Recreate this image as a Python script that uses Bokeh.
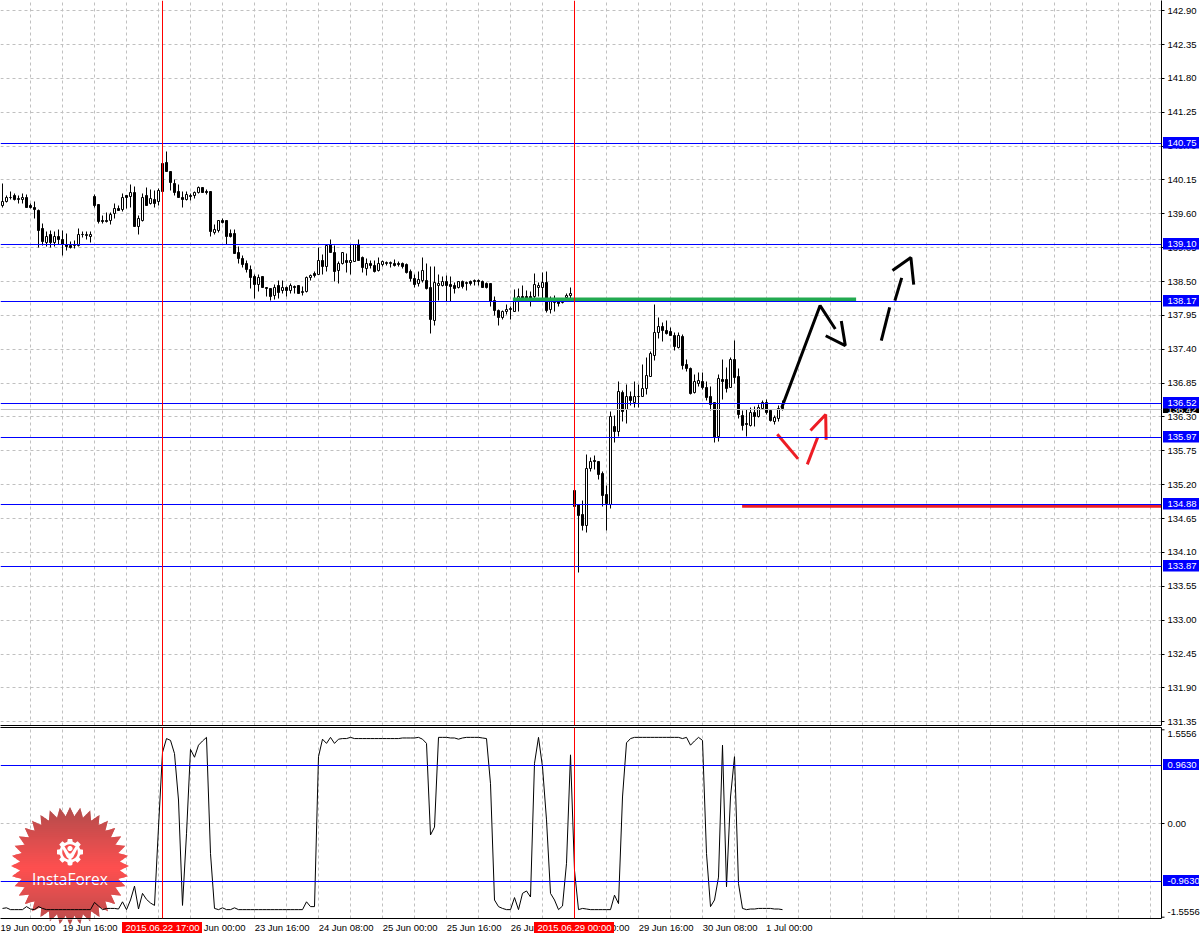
import math
from bokeh.embed import file_html
from bokeh.resources import INLINE
from bokeh.plotting import figure
from bokeh.layouts import column
from bokeh.core.properties import value
from bokeh.models import (Range1d, FixedTicker, LinearAxis, PrintfTickFormatter, Span, Label,
                          PolyAnnotation, ColumnDataSource)

HIGHS = [140.10,139.89,139.97,139.93,139.89,139.93,139.91,139.76,139.80,139.67,
139.45,139.31,139.33,139.31,139.35,139.33,139.28,139.15,139.17,139.37,
139.31,139.31,139.31,139.91,139.75,139.58,139.63,139.62,139.77,139.74,
139.93,139.90,140.08,140.04,139.58,139.93,140.03,140.00,139.98,140.01,
140.42,140.61,140.29,140.16,140.07,139.96,139.96,139.93,139.96,140.04,
140.03,140.00,139.97,139.42,139.50,139.53,139.49,139.35,139.34,139.07,
138.93,138.84,138.76,138.62,138.62,138.58,138.41,138.39,138.45,138.52,
138.52,138.42,138.47,138.44,138.44,138.42,138.58,138.61,138.67,139.05,
138.94,139.10,139.18,139.08,138.83,138.98,138.96,139.10,139.11,139.18,
138.90,138.87,138.84,138.84,138.89,138.84,138.83,138.83,138.86,138.83,
138.81,138.79,138.70,138.61,138.67,138.89,138.80,138.75,138.75,138.61,
138.58,138.60,138.58,138.48,138.50,138.51,138.50,138.52,138.54,138.54,
138.51,138.48,138.47,138.25,138.05,138.03,138.12,138.09,138.37,138.38,
138.43,138.36,138.34,138.63,138.48,138.65,138.67,138.25,138.27,138.22,
138.21,138.30,138.41,135.11,134.88,134.95,135.69,135.65,135.67,135.58,
135.41,135.18,136.39,136.33,136.87,136.73,136.82,136.72,136.88,136.83,
137.15,137.26,137.37,138.13,137.91,137.83,137.87,137.76,137.67,137.68,
137.64,137.23,137.11,136.99,137.03,137.02,136.88,136.80,136.53,136.99,
137.24,137.10,137.27,137.54,137.08,136.41,136.42,136.45,136.47,136.50,
136.56,136.59,136.42,136.33,136.49,136.56]

LOWS = [139.71,139.79,139.83,139.82,139.77,139.76,139.70,139.68,139.52,139.05,
139.08,139.07,139.06,139.07,139.10,138.92,139.01,139.03,139.03,139.07,
139.21,139.18,139.14,139.71,139.45,139.44,139.46,139.42,139.52,139.65,
139.64,139.68,139.70,139.39,139.26,139.48,139.73,139.75,139.71,139.73,
139.96,140.28,139.98,139.89,139.86,139.70,139.81,139.81,139.85,139.93,
139.94,139.91,139.24,139.26,139.30,139.45,139.11,139.22,138.95,138.79,
138.73,138.65,138.38,138.23,138.34,138.40,138.25,138.19,138.21,138.23,
138.31,138.26,138.31,138.31,138.30,138.28,138.33,138.52,138.56,138.61,
138.61,138.67,138.97,138.50,138.47,138.78,138.64,138.62,138.82,138.84,
138.64,138.60,138.71,138.64,138.66,138.75,138.76,138.73,138.75,138.75,
138.71,138.63,138.50,138.40,138.42,138.48,138.37,137.65,137.78,138.20,
138.42,138.18,138.18,138.31,138.38,138.39,138.35,138.43,138.44,138.43,
138.40,138.39,138.10,137.95,137.78,137.89,137.97,137.88,138.02,138.02,
138.18,138.18,138.09,138.21,138.25,138.18,137.99,137.98,138.02,138.10,
138.14,138.21,138.23,134.85,133.78,134.45,134.43,135.42,135.45,135.28,
134.84,134.46,134.81,135.89,135.99,136.23,136.19,136.48,136.46,136.45,
136.64,136.67,136.95,137.22,137.58,137.53,137.64,137.63,137.38,137.41,
137.07,137.04,136.67,136.68,136.80,136.75,136.56,136.41,135.88,135.91,
136.58,136.69,136.78,136.85,136.28,136.08,135.99,136.14,136.15,136.29,
136.42,136.34,136.23,136.17,136.23,136.40]

OPENS = [139.74,139.80,139.86,139.89,139.84,139.84,139.87,139.73,139.71,139.65,
139.36,139.14,139.26,139.13,139.24,139.18,139.10,139.09,139.09,139.09,
139.26,139.25,139.23,139.88,139.75,139.50,139.50,139.49,139.60,139.69,
139.67,139.89,139.88,139.94,139.40,139.50,139.89,139.76,139.84,139.80,
140.42,140.43,140.29,140.10,139.96,139.87,139.83,139.90,139.90,139.94,
140.02,139.97,139.97,139.29,139.33,139.49,139.49,139.28,139.28,138.97,
138.87,138.79,138.69,138.58,138.45,138.58,138.41,138.38,138.27,138.43,
138.35,138.41,138.36,138.42,138.43,138.33,138.34,138.56,138.63,138.61,
138.84,138.75,139.10,138.98,138.68,138.79,138.84,138.81,138.83,139.10,
138.89,138.71,138.80,138.76,138.68,138.78,138.80,138.80,138.80,138.80,
138.79,138.78,138.67,138.55,138.47,138.52,138.52,138.41,137.87,138.44,
138.43,138.50,138.45,138.43,138.40,138.50,138.47,138.50,138.50,138.52,
138.50,138.47,138.47,138.20,138.03,137.91,138.02,138.05,138.02,138.18,
138.26,138.26,138.26,138.25,138.41,138.40,138.49,138.04,138.16,138.17,
138.16,138.24,138.27,135.11,134.88,134.71,134.53,135.47,135.59,135.58,
135.38,135.04,134.88,136.15,136.07,136.69,136.42,136.64,136.53,136.64,
136.64,136.77,136.96,137.30,137.68,137.77,137.71,137.69,137.63,137.43,
137.61,137.15,137.09,136.70,136.85,136.87,136.78,136.63,136.53,135.98,
136.91,136.91,136.78,137.24,136.95,136.33,136.19,136.16,136.37,136.30,
136.43,136.54,136.40,136.23,136.28,136.47]

CLOSES = [139.80,139.87,139.87,139.84,139.85,139.87,139.70,139.70,139.67,139.33,
139.15,139.24,139.13,139.24,139.18,139.10,139.07,139.05,139.08,139.26,
139.27,139.26,139.27,139.73,139.47,139.47,139.48,139.59,139.69,139.65,
139.87,139.87,139.95,139.39,139.53,139.87,139.74,139.85,139.77,139.98,
139.96,140.28,140.11,139.95,139.86,139.83,139.91,139.88,139.94,140.03,
139.95,139.94,139.31,139.35,139.50,139.46,139.24,139.24,138.95,138.88,
138.77,138.69,138.56,138.45,138.56,138.40,138.39,138.26,138.41,138.33,
138.41,138.36,138.44,138.40,138.30,138.34,138.57,138.60,138.60,138.85,
138.75,139.08,138.97,138.67,138.80,138.97,138.81,138.85,139.10,138.85,
138.73,138.79,138.76,138.66,138.79,138.82,138.81,138.81,138.76,138.78,
138.75,138.65,138.55,138.45,138.53,138.68,138.38,137.88,138.48,138.47,
138.50,138.43,138.42,138.39,138.50,138.42,138.48,138.47,138.52,138.50,
138.40,138.41,138.18,138.03,137.91,138.02,138.05,138.07,138.18,138.25,
138.23,138.23,138.23,138.45,138.43,138.49,138.03,138.18,138.18,138.15,
138.18,138.27,138.31,134.85,134.70,134.54,135.46,135.57,135.57,135.36,
135.03,134.90,136.30,136.07,136.71,136.39,136.64,136.56,136.64,136.64,
136.77,136.98,137.33,137.67,137.77,137.71,137.66,137.63,137.45,137.62,
137.14,137.09,136.68,136.87,136.89,136.78,136.62,136.51,135.96,136.93,
136.88,136.77,137.24,136.94,136.34,136.16,136.17,136.38,136.30,136.45,
136.54,136.37,136.25,136.29,136.43,136.43]

INDICATOR = [-1.41,-1.40,-1.43,-1.43,-1.43,-1.43,-1.38,-1.42,-1.43,-1.38,
-1.41,-1.43,-1.43,-1.43,-1.43,-1.43,-1.43,-1.43,-1.43,-1.43,
-1.43,-1.43,-1.43,-1.31,-1.37,-1.43,-1.41,-1.41,-1.41,-1.42,
-1.30,-1.43,-1.27,-1.04,-1.42,-1.16,-1.26,-1.32,-1.36,-0.06,
1.18,1.41,1.38,1.16,0.39,-1.36,-0.17,1.23,1.10,1.30,
1.37,1.43,-0.50,-1.41,-1.43,-1.40,-1.43,-1.43,-1.40,-1.43,
-1.43,-1.43,-1.43,-1.43,-1.43,-1.43,-1.43,-1.43,-1.43,-1.43,
-1.43,-1.43,-1.43,-1.43,-1.43,-1.43,-1.30,-1.38,-1.38,1.11,
1.40,1.33,1.43,1.33,1.40,1.41,1.41,1.43,1.41,1.41,
1.41,1.41,1.41,1.41,1.41,1.41,1.41,1.41,1.41,1.41,
1.42,1.42,1.42,1.42,1.43,1.40,1.33,-0.19,-0.06,1.43,
1.43,1.43,1.42,1.42,1.40,1.42,1.43,1.43,1.43,1.43,
1.42,1.41,0.66,-1.27,-1.38,-1.41,-1.43,-1.43,-1.23,-1.43,
-1.16,-1.12,-1.22,1.00,1.43,0.94,0.06,-1.16,-1.27,-1.43,
-1.37,-0.66,1.14,-0.78,-1.43,-1.41,-1.42,-1.43,-1.43,-1.43,
-1.43,-1.43,-1.43,-1.19,-1.33,0.44,1.34,1.41,1.43,1.43,
1.43,1.43,1.43,1.43,1.43,1.43,1.43,1.43,1.43,1.43,
1.41,1.43,1.30,1.37,1.43,1.38,-0.50,-1.38,-1.27,-0.89,
1.30,-1.05,0.44,1.11,-1.00,-1.41,-1.43,-1.42,-1.42,-1.41,
-1.41,-1.41,-1.41,-1.42,-1.42,-1.43]

PRICE_TICKS = [142.90,142.35,141.80,141.25,140.70,140.15,139.60,139.05,138.50,137.95,137.40,
               136.85,136.30,135.75,135.20,134.65,134.10,133.55,133.00,132.45,131.90,131.35]
BLUE_LEVELS = [140.75,139.10,138.17,136.52,135.97,134.88,133.87]
LAST_PRICE = 136.42
IND_LEVELS = [0.963,-0.963]
IND_LIMITS = [1.5556,-1.5556]
MARKED_BARS = [40,143]
TIME_TICKS = [-1,15,31,47,63,79,95,111,127,143,159,175,191]
TIME_LABELS = ["19 Jun 00:00","19 Jun 16:00","22 Jun 08:00","23 Jun 00:00","23 Jun 16:00","24 Jun 08:00",
               "25 Jun 00:00","25 Jun 16:00","26 Jun 08:00","29 Jun 00:00","29 Jun 16:00","30 Jun 08:00","1 Jul 00:00"]
TAG_LABELS = ["2015.06.22 17:00","2015.06.29 00:00"]
GREEN_X = [127.6,213.4]; GREEN_Y = [138.21,138.21]
RED_X = [184.9,290.0]; RED_Y = [134.85,134.85]
BLACK_STROKES = [([194.8,204.4,208.2],[136.45,138.11,137.73]),
                 ([205.8,210.7,209.7],[137.62,137.46,137.86]),
                 ([219.7,221.8],[137.54,138.08]),
                 ([223.1,224.8],[138.19,138.56]),
                 ([222.5,227.1,227.8],[138.68,138.89,138.45])]
RED_STROKES = [([193.7,198.9],[136.02,135.62]),
               ([201.2,203.8],[135.53,135.97]),
               ([202.0,205.8,205.9],[136.08,136.34,135.93])]

FONT = "Liberation Sans"
FS = "9.5px"
GRID = "#c0c0c0"
BLUE = "#0000ff"
BAR_PX = 4.0
PX_PER_PRICE = 61.56
PX_PER_IND = 60.23

def X(px): return (px-2)/BAR_PX
def XPX(i): return 2+i*BAR_PX
def RP(p): return 10.2+(142.90-p)*PX_PER_PRICE      # price -> pixel row
def P(r): return 142.90-(r-10.2)/PX_PER_PRICE       # pixel row -> price
def snap(p): return P(round(RP(p)))
def RV(v): return 823-v*PX_PER_IND
def V(r): return (823-r)/PX_PER_IND

n = len(OPENS)
bars = list(range(n))
src = ColumnDataSource(dict(x=bars, hi=[snap(v) for v in HIGHS], lo=[snap(v) for v in LOWS],
    top=[snap(max(o,c)) for o,c in zip(OPENS,CLOSES)], bot=[snap(min(o,c)) for o,c in zip(OPENS,CLOSES)],
    fill=["#000000" if c<o else "#ffffff" for o,c in zip(OPENS,CLOSES)]))

xr = Range1d(X(0),X(1161))
grid_ticks = list(range(7,291,8))

# ---------- price panel
p1 = figure(width=1201,height=726,frame_width=1161,frame_height=725,output_backend="svg",toolbar_location=None,
            x_range=xr,y_range=Range1d(P(725),P(0)),x_axis_location=None,y_axis_location="right",
            min_border_left=0,min_border_top=0,min_border_right=40,min_border_bottom=1,outline_line_color=None,
            background_fill_color="white",border_fill_color="white")
p1.yaxis.ticker = FixedTicker(ticks=PRICE_TICKS)
p1.yaxis.formatter = PrintfTickFormatter(format="%.2f")
ax = p1.yaxis[0]
ax.major_tick_out=3; ax.major_tick_in=0; ax.minor_tick_out=0; ax.minor_tick_in=0
ax.major_label_standoff=3; ax.axis_line_color="black"; ax.major_tick_line_color="black"
ax.major_label_text_font=FONT; ax.major_label_text_font_size=FS; ax.major_label_text_color="black"
p1.add_layout(LinearAxis(ticker=FixedTicker(ticks=[]),major_tick_out=0,major_tick_in=0,minor_tick_out=0,
                         minor_tick_in=0,major_label_standoff=0),"below")
p1.grid.grid_line_color=GRID; p1.grid.grid_line_dash="3 3"
p1.xgrid.ticker = FixedTicker(ticks=grid_ticks)
p1.ygrid.ticker = FixedTicker(ticks=PRICE_TICKS)

p1.segment("x","hi","x","lo",source=src,line_color="black",line_width=1)
p1.vbar("x",0.5,"top","bot",source=src,fill_color="fill",line_color="black",line_width=1)

p1.add_layout(Span(location=snap(LAST_PRICE),dimension="width",line_color=GRID,line_width=1))
for lv in BLUE_LEVELS:
    p1.add_layout(Span(location=snap(lv),dimension="width",line_color=BLUE,line_width=1))
for b in MARKED_BARS:
    p1.add_layout(Span(location=b,dimension="height",line_color="#ff0000",line_width=1))

p1.line(GREEN_X,GREEN_Y,line_color="#22aa50",line_width=4)
p1.line(RED_X,RED_Y,line_color="#ed1c24",line_width=3)
for xs,ys in BLACK_STROKES:
    p1.line(xs,ys,line_color="black",line_width=3)
for xs,ys in RED_STROKES:
    p1.line(xs,ys,line_color="#ed1c24",line_width=3)

# ---------- indicator panel
p2 = figure(width=1201,height=210,frame_width=1161,frame_height=191,output_backend="svg",toolbar_location=None,
            x_range=xr,y_range=Range1d(V(918),V(727)),x_axis_location="below",y_axis_location="right",
            min_border_left=0,min_border_top=1,min_border_right=40,min_border_bottom=18,outline_line_color=None,
            background_fill_color="white",border_fill_color="white")
p2.yaxis.ticker = FixedTicker(ticks=[0])
p2.yaxis.formatter = PrintfTickFormatter(format="%.2f")
ay = p2.yaxis[0]
ay.major_tick_out=3; ay.major_tick_in=0; ay.minor_tick_out=0; ay.minor_tick_in=0
ay.major_label_standoff=3; ay.major_label_text_font=FONT; ay.major_label_text_font_size=FS
ay.major_label_text_color="black"
# the time labels begin at their tick, so the axis centres them half a label to the right
LABEL_HALF = [6.9 if len(s)>11 else 5.7 for s in TIME_LABELS]
time_pos = [t+h for t,h in zip(TIME_TICKS,LABEL_HALF)]
ax2 = p2.xaxis[0]
ax2.ticker = FixedTicker(ticks=time_pos)
ax2.major_label_overrides = dict(zip(time_pos,TIME_LABELS))
ax2.major_tick_out=0; ax2.major_tick_in=0; ax2.minor_tick_out=0; ax2.minor_tick_in=0
ax2.major_label_standoff=3; ax2.major_label_text_font=FONT; ax2.major_label_text_font_size=FS
ax2.major_label_text_color="black"
p2.add_layout(LinearAxis(ticker=FixedTicker(ticks=[]),major_tick_out=0,major_tick_in=0,minor_tick_out=0,
                         minor_tick_in=0,major_label_standoff=0),"above")
p2.grid.grid_line_color=GRID; p2.grid.grid_line_dash="3 3"
p2.xgrid.ticker = FixedTicker(ticks=grid_ticks)
p2.ygrid.ticker = FixedTicker(ticks=[0])

# watermark badge (decoration: above the grid, below the data)
CX,CY = 69.5,865.5
def poly_clip(pts,y0,y1):
    def clip(pts,inside,cross):
        out=[]
        for i,a in enumerate(pts):
            b=pts[(i+1)%len(pts)]
            if inside(a): out.append(a)
            if inside(a)!=inside(b): out.append(cross(a,b))
        return out
    def at(yv):
        return lambda a,b:(a[0]+(b[0]-a[0])*(yv-a[1])/(b[1]-a[1]),yv)
    r=clip(pts,lambda q:q[1]>=y0,at(y0))
    return clip(r,lambda q:q[1]<=y1,at(y1)) if r else []
star=[]
for k in range(72):
    r=59.0 if k%2==0 else 50.0
    a=math.pi*k/36-math.pi/2
    star.append((CX+r*math.cos(a),CY+r*math.sin(a)))
def shade(y):
    t=min(abs(y-868)/60,1)
    return "#%02x%02x%02x"%(int(255-75*t),int(80-4*t),int(80-4*t))
yb=804
while yb<919:
    piece=poly_clip(star,yb,yb+3)
    if len(piece)>=3:
        p2.add_layout(PolyAnnotation(xs=[X(q[0]) for q in piece],ys=[V(q[1]) for q in piece],fill_color=shade(yb+1),
                                     fill_alpha=1,line_alpha=0,level="underlay"))
    yb+=2
gx,gy=69.5,851.5
gear=[]
for k in range(8):
    a0=2*math.pi*k/8-math.pi/2
    for da,r in [(-0.26,10.5),(-0.17,13.2),(0.17,13.2),(0.26,10.5)]:
        gear.append((gx+r*math.cos(a0+da),gy+r*math.sin(a0+da)))
def shape(pts,color):
    p2.add_layout(PolyAnnotation(xs=[X(q[0]) for q in pts],ys=[V(q[1]) for q in pts],fill_color=color,fill_alpha=1,
                                 line_alpha=0,level="underlay"))
def disc(x,y,r): return [(x+r*math.cos(2*math.pi*k/24),y+r*math.sin(2*math.pi*k/24)) for k in range(24)]
shape(gear,"#ffffff")
shape(disc(gx,gy,7.8),"#f75050")
shape(disc(gx,848,2.6),"#ffffff")
shape([(gx-1.5,853),(gx+1.5,853),(gx+1.5,865),(gx-1.5,865)],"#ffffff")
shape([(gx-8,847),(gx-5.5,846),(gx-1,853),(gx-1,858),(gx-3,857)],"#ffffff")
shape([(gx+8,847),(gx+5.5,846),(gx+1,853),(gx+1,858),(gx+3,857)],"#ffffff")
p2.add_layout(Label(x=X(CX),y=V(878),text="InstaForex",text_color="#ffffff",text_align="center",text_baseline="middle",
                    text_font="Open Sans",text_font_size="15.5px",level="underlay"))

p2.line(bars,INDICATOR,line_color="black",line_width=1)
for lv in IND_LEVELS:
    p2.add_layout(Span(location=V(round(RV(lv))),dimension="width",line_color=BLUE,line_width=1))
for b in MARKED_BARS:
    p2.add_layout(Span(location=b,dimension="height",line_color="#ff0000",line_width=1))

# ---------- overlay for everything that lies outside the two frames: tags, tick marks, badge tips
ov = figure(width=1201,height=936,frame_width=1201,frame_height=936,output_backend="svg",toolbar_location=None,
            x_range=Range1d(0,1201),y_range=Range1d(936,0),x_axis_location=None,y_axis_location=None,
            min_border_left=0,min_border_top=0,min_border_right=0,min_border_bottom=0,outline_line_color=None,
            background_fill_alpha=0,border_fill_alpha=0,margin=(-936,0,0,0))
ov.grid.visible=False

yb=919
while yb<926:
    piece=poly_clip(star,yb,yb+3)
    if len(piece)>=3:
        ov.patch([q[0] for q in piece],[q[1] for q in piece],fill_color=shade(yb+1),line_alpha=0)
    yb+=2

def tag(x0,x1,r0,r1,color,labels_x,label,label_r,text_color="#ffffff",align="left"):
    ov.quad(left=[x0],right=[x1],top=[r0],bottom=[r1],fill_color=color,line_alpha=0)
    ov.text([labels_x],[label_r],text=[label],text_color=text_color,text_align=align,text_baseline="middle",
            text_font=value(FONT),text_font_size=value(FS))

def note(x,r,s):
    ov.text([x],[r],text=[s],text_color="black",text_align="left",text_baseline="middle",
            text_font=value(FONT),text_font_size=value(FS))

r_last = round(RP(LAST_PRICE))
tag(1162.5,1198.5,r_last-5,r_last+3.5,"#000000",1167,f"{LAST_PRICE:.2f}",r_last+0.5)
for lv in BLUE_LEVELS:
    r=round(RP(lv))
    tag(1162.5,1198.5,r-6.5,r+5,BLUE,1167,f"{lv:.2f}",r-0.5)
for lv in IND_LEVELS:
    r=round(RV(lv))
    tag(1162.5,1198.5,r-6.5,r+4.5,BLUE,1167,f"{lv:.4f}",r-1)
for lim in IND_LIMITS:
    r=RV(lim)
    ov.segment([1161],[r],[1164],[r],line_color="black",line_width=1)
note(1167,733,f"{IND_LIMITS[0]:.4f}")
note(1167,911.5,f"{IND_LIMITS[1]:.4f}")

for b,s in zip(MARKED_BARS,TAG_LABELS):
    c=XPX(b)
    tag(c-40.5,c+39.5,921.5,932.5,"#ff0000",c,s,927,align="center")

root = column(p1,p2,ov,spacing=0)
open("out.html","w").write(file_html(root,INLINE))
